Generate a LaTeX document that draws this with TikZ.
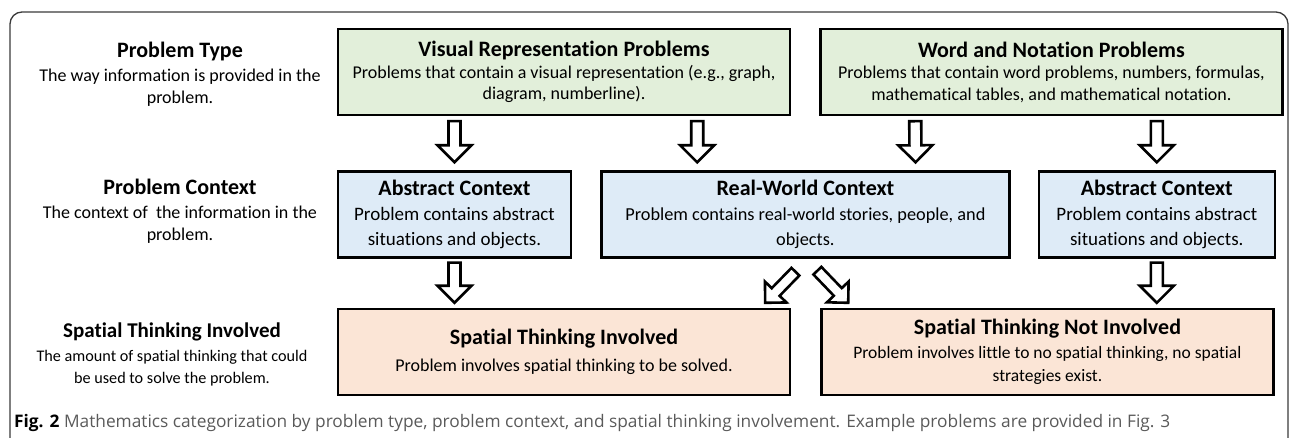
\documentclass[tikz,border=0pt]{standalone}
\usepackage{fontspec}
\setmainfont{Carlito}[Ligatures=NoCommon]
\newfontfamily\capfont{Open Sans}
\usetikzlibrary{calc,positioning}
\definecolor{ink}{HTML}{000000}
\definecolor{rim}{HTML}{3A3A3A}
\definecolor{leaf}{HTML}{E2EFDA}
\definecolor{sky}{HTML}{DEEBF7}
\definecolor{peach}{HTML}{FBE5D6}
\definecolor{grey}{HTML}{5A5A5A}
\newcommand{\ttl}[1]{{\fontsize{22}{24}\selectfont\bfseries #1}}
\tikzset{
  blkw/.initial=17pt, blkl/.initial=17pt, blks/.initial=6pt,
  frame/.style={draw=rim,line width=1.3pt,rounded corners=12pt},
  box/.style={draw=ink,line width=2.4pt,align=center,inner sep=0pt,
              minimum height=86pt,font=\fontsize{18}{21.5}\selectfont},
  typebox/.style={box,fill=leaf},
  ctxbox/.style={box,fill=sky,font=\fontsize{19}{25}\selectfont},
  spbox/.style={box,fill=peach,font=\fontsize{17.5}{23.5}\selectfont},
  rowlabel/.style={align=center,inner sep=0pt,font=\fontsize{18}{21.5}\selectfont},
  caption/.style={anchor=west,inner sep=0pt,text=grey,font=\capfont\fontsize{17.3}{20}\selectfont},
  slim/.style={blkw=15pt,blkl=15pt,blks=5.5pt},
  blk/.style={draw=ink,fill=white,line width=2.6pt,line join=miter,
    to path={let \p1=(\tikztostart),\p2=(\tikztotarget),
      \n1={atan2(\y2-\y1,\x2-\x1)},\n2={veclen(\x2-\x1,\y2-\y1)},
      \n3={\pgfkeysvalueof{/tikz/blkw}},\n4={\pgfkeysvalueof{/tikz/blks}},
      \n5={\n2-\pgfkeysvalueof{/tikz/blkl}} in
      ($(\p1)+(\n1+90:\n4)$) -- ($(\p1)+(\n1:\n5)+(\n1+90:\n4)$)
      -- ($(\p1)+(\n1:\n5)+(\n1+90:\n3)$) -- (\p2)
      -- ($(\p1)+(\n1:\n5)+(\n1-90:\n3)$)
      -- ($(\p1)+(\n1:\n5)+(\n1-90:\n4)$)
      -- ($(\p1)+(\n1-90:\n4)$) -- cycle}},
}
\begin{document}
\begin{tikzpicture}[x=1pt,y=-1pt]
    \useasboundingbox (0,0) rectangle (1290,438);
    \draw[frame] (10,450) -- (10,12) -- (1288,12) -- (1288,450);
    \node[rowlabel] (lbltype) at (180,74)
      {\ttl{Problem Type}\\[3pt]The way information is provided in the\\problem.};
    \node[rowlabel] (lblctx) at (180,211)
      {\ttl{Problem Context}\\[3pt]The context of\ \ the information in the\\problem.};
    \node[rowlabel,font=\fontsize{16.2}{21.5}\selectfont] (lblspat) at (172,354)
      {{\fontsize{21}{24}\selectfont\bfseries Spatial Thinking Involved}\\[3pt]The amount of spatial thinking that could\\be used to solve the problem.};
    \node[typebox,minimum width=452pt] (visual) at (564,72)
      {\ttl{Visual Representation Problems}\\Problems that contain a visual representation (e.g., graph,\\diagram, numberline).};
    \node[typebox,minimum width=462pt,right=28pt of visual] (word)
      {\ttl{Word and Notation Problems}\\Problems that contain word problems, numbers, formulas,\\mathematical tables, and mathematical notation.};
    \node[ctxbox,minimum width=233pt] (absl) at (454.5,214.5)
      {\ttl{Abstract Context}\\Problem contains abstract\\situations and objects.};
    \node[ctxbox,minimum width=408pt,right=28pt of absl,font=\fontsize{18.3}{25}\selectfont] (realw)
      {\ttl{Real-World Context}\\Problem contains real-world stories, people, and\\objects.};
    \node[ctxbox,minimum width=236pt,right=27pt of realw] (absr)
      {\ttl{Abstract Context}\\Problem contains abstract\\situations and objects.};
    \node[spbox,minimum width=452pt,font=\fontsize{18}{27}\selectfont] (spatial) at (564,352)
      {\ttl{Spatial Thinking Involved}\\Problem involves spatial thinking to be solved.};
    \node[spbox,minimum width=452pt,right=29pt of spatial] (spatialno)
      {\ttl{Spatial Thinking Not Involved}\\Problem involves little to no spatial thinking, no spatial\\strategies exist.};
    \node[caption] (cap) at (14,423)
      {\textcolor{ink}{\bfseries Fig. 2} Mathematics categorization by problem type, problem context, and spatial thinking involvement. Example problems are provided in Fig. 3};
    \draw[blk] ($(visual.south -| absl.north)+(0,5)$) to ($(absl.north)+(0,-8)$);
    \draw[blk] ($(visual.south east)+(-94,5)$) to ($(realw.north west)+(97,-8)$);
    \draw[blk] ($(word.south west)+(96,5)$) to ($(realw.north east)+(-95,-8)$);
    \draw[blk] ($(word.south -| absr.north)+(0,5)$) to ($(absr.north)+(0,-8)$);
    \draw[blk] ($(absl.south)+(0,4)$) to ($(spatial.north -| absl.south)+(0,-5)$);
    \draw[blk] ($(absr.south)+(0,4)$) to ($(spatialno.north -| absr.south)+(0,-5)$);
    \draw[blk,slim] ($(realw.south)+(-10,13)$) to ($(spatial.north east)+(-26,-5)$);
    \draw[blk,slim] ($(realw.south)+(12,12)$) to ($(spatialno.north west)+(28,-5)$);
\end{tikzpicture}
\end{document}
